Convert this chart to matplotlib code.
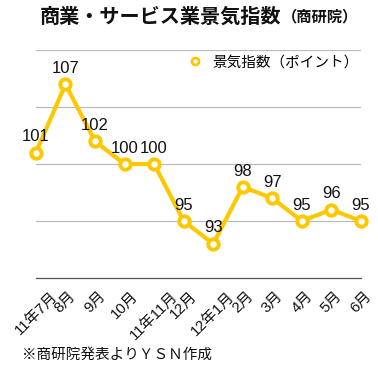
"""
商業・サービス業景気指数（商研院）の折れ線グラフ
"""

import matplotlib
matplotlib.use("Agg")
import matplotlib.pyplot as plt
from matplotlib.lines import Line2D

JP = ["Noto Sans CJK JP", "DejaVu Sans"]
NUM = ["Liberation Sans", "Noto Sans CJK JP"]
plt.rcParams["font.family"] = JP

# ── データ ─────────────────────────────────────────────
months = ["11年7月", "8月", "9月", "10月", "11年11月", "12月",
          "12年1月", "2月", "3月", "4月", "5月", "6月"]
index_values = [101, 107, 102, 100, 100, 95, 93, 98, 97, 95, 96, 95]
y_grid = [95, 100, 105, 110]

YELLOW = "#FDC800"
INK = "#111111"

fig = plt.figure(figsize=(3.78, 3.73), dpi=100)
ax = fig.add_axes([0.095, 0.2547, 0.86, 0.611])

x = list(range(len(months)))
ax.plot(x, index_values, color=YELLOW, linewidth=3.0,
        marker="o", markersize=7.5, markerfacecolor="white",
        markeredgecolor=YELLOW, markeredgewidth=2.8, zorder=3,
        clip_on=False)

for xi, v in zip(x, index_values):
    ax.annotate(str(v), xy=(xi, v), xytext=(0, 6), textcoords="offset points",
                ha="center", va="bottom", fontsize=12, color=INK, zorder=4,
                family=NUM)

ax.set_xlim(0, len(months) - 1)
ax.set_ylim(90, 110)
for g in y_grid:
    ax.axhline(g, color="#BBBBBB", linewidth=0.9, zorder=1)

for s in ["top", "left", "right"]:
    ax.spines[s].set_visible(False)
ax.spines["bottom"].set_color("#555555")
ax.spines["bottom"].set_linewidth(0.9)

ax.set_yticks([])
ax.set_xticks(x)
ax.set_xticklabels(months, rotation=45, fontsize=10.8, color=INK, family=NUM)
ax.tick_params(axis="x", length=0, pad=8)

# 凡例
handle = Line2D([], [], linestyle="none", marker="o", markersize=5,
                markerfacecolor="white", markeredgecolor=YELLOW, markeredgewidth=2)
ax.legend([handle], ["景気指数（ポイント）"], loc="center right",
          bbox_to_anchor=(1.01, 0.947), frameon=False, fontsize=10.5,
          handletextpad=0.6, borderaxespad=0, handlelength=1.2)

# タイトル（括弧部分は小さめ）
t1 = fig.text(0.106, 0.957, "商業・サービス業景気指数", fontsize=14.5,
              fontweight="bold", ha="left", va="center", color=INK)
fig.canvas.draw()
bb = t1.get_window_extent(renderer=fig.canvas.get_renderer())
fig.text(bb.x1 / fig.bbox.width, 0.955, "（商研院）", fontsize=11,
         fontweight="bold", ha="left", va="center", color=INK)

fig.text(0.058, 0.048, "※商研院発表よりＹＳＮ作成", fontsize=10.5,
         ha="left", va="center", color=INK)

fig.savefig("out.png", dpi=100)
plt.close(fig)
